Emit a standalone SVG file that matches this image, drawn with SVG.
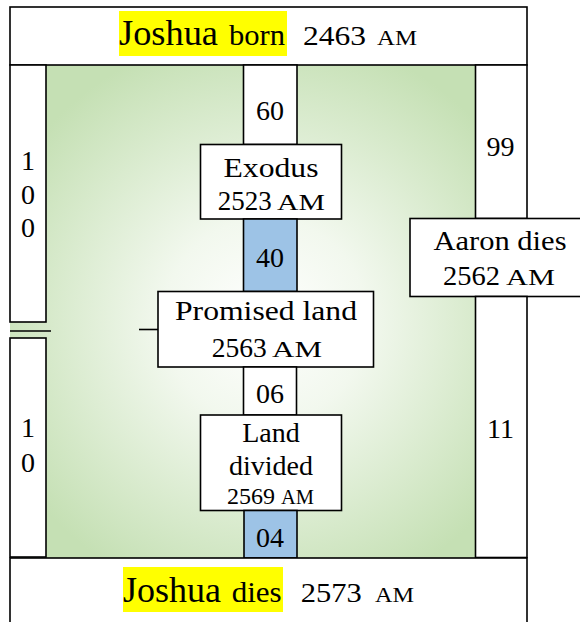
<svg xmlns="http://www.w3.org/2000/svg" width="580" height="622" viewBox="0 0 580 622">
<defs>
<radialGradient id="g" gradientUnits="userSpaceOnUse" cx="265" cy="320" r="290">
<stop offset="0" stop-color="#ffffff"/>
<stop offset="0.35" stop-color="#f2f8ee"/>
<stop offset="1" stop-color="#c5e0b4"/>
</radialGradient>
<style>
rect.b{fill:#fff;stroke:#000;stroke-width:1.6}
rect.bl{fill:#9dc3e6;stroke:#000;stroke-width:1.6}
text{font-family:"Liberation Serif","Times New Roman",serif;fill:#000;font-size:28px}
.c{text-anchor:middle}
.hl{fill:#ffff00}
line{stroke:#000;stroke-width:1.6}
</style>
</defs>
<rect x="10" y="65" width="466" height="493" fill="url(#g)"/>
<g id="top">
<rect class="b" x="10" y="7" width="517" height="58"/>
<rect class="hl" x="119" y="11" width="168" height="45"/>
<text y="45"><tspan x="119" font-size="36" textLength="99" lengthAdjust="spacingAndGlyphs">Joshua</tspan><tspan x="229" font-size="30" textLength="56" lengthAdjust="spacingAndGlyphs">born</tspan><tspan x="303" font-size="27" textLength="63" lengthAdjust="spacingAndGlyphs">2463</tspan><tspan x="377" font-size="21" textLength="40" lengthAdjust="spacingAndGlyphs">AM</tspan></text>
</g>
<g id="left-100">
<rect class="b" x="10" y="65" width="36" height="257"/>
<text class="c" x="28" y="170">1</text>
<text class="c" x="28" y="204">0</text>
<text class="c" x="28" y="237">0</text>
</g>
<g id="left-10">
<rect class="b" x="10" y="338" width="36" height="219"/>
<text class="c" x="28" y="437">1</text>
<text class="c" x="28" y="472">0</text>
</g>
<g id="connectors">
<line x1="10" y1="331" x2="51" y2="331"/>
<line x1="139" y1="329.5" x2="158" y2="329.5"/>
</g>
<g id="n60">
<rect class="b" x="243.5" y="65" width="53.5" height="79.5"/>
<text class="c" x="270" y="120">60</text>
</g>
<g id="exodus">
<rect class="b" x="200.5" y="144.5" width="141" height="74.5"/>
<text class="c" x="271" y="176.7" font-size="30" textLength="95" lengthAdjust="spacingAndGlyphs">Exodus</text>
<text y="210"><tspan x="217.7" font-size="27" textLength="54" lengthAdjust="spacingAndGlyphs">2523</tspan><tspan x="277" font-size="23" textLength="48" lengthAdjust="spacingAndGlyphs">AM</tspan></text>
</g>
<g id="n40">
<rect class="bl" x="243.5" y="219" width="53.5" height="72.5"/>
<text class="c" x="270" y="266.7">40</text>
</g>
<g id="promised">
<rect class="b" x="158" y="291.5" width="215.5" height="75.5"/>
<text class="c" x="266" y="320" font-size="30" textLength="182" lengthAdjust="spacingAndGlyphs">Promised land</text>
<text y="356.7"><tspan x="211.7" font-size="27" textLength="55" lengthAdjust="spacingAndGlyphs">2563</tspan><tspan x="272" font-size="23" textLength="50" lengthAdjust="spacingAndGlyphs">AM</tspan></text>
</g>
<g id="n06">
<rect class="b" x="243.5" y="367" width="53" height="48"/>
<text class="c" x="270" y="403.3">06</text>
</g>
<g id="land">
<rect class="b" x="200.5" y="415" width="141" height="95.5"/>
<text class="c" x="271" y="441.7">Land</text>
<text class="c" x="271" y="475">divided</text>
<text y="504"><tspan x="227" font-size="24" textLength="48" lengthAdjust="spacingAndGlyphs">2569</tspan><tspan x="281" font-size="20" textLength="33" lengthAdjust="spacingAndGlyphs">AM</tspan></text>
</g>
<g id="n04">
<rect class="bl" x="244" y="510.5" width="53" height="47.5"/>
<text class="c" x="270" y="546.7">04</text>
</g>
<g id="right-99">
<rect class="b" x="475.5" y="65" width="51.5" height="153.5"/>
<text class="c" x="500.5" y="156">99</text>
</g>
<g id="aaron">
<rect class="b" x="410" y="218.5" width="190" height="78"/>
<text class="c" x="500" y="250" font-size="30" textLength="133" lengthAdjust="spacingAndGlyphs">Aaron dies</text>
<text y="285"><tspan x="443" font-size="28" textLength="57" lengthAdjust="spacingAndGlyphs">2562</tspan><tspan x="506" font-size="24" textLength="49" lengthAdjust="spacingAndGlyphs">AM</tspan></text>
</g>
<g id="right-11">
<rect class="b" x="475.5" y="296.5" width="51.5" height="261"/>
<text class="c" x="500.5" y="438.3">11</text>
</g>
<g id="bottom">
<rect class="b" x="10" y="558" width="517" height="80"/>
<rect class="hl" x="123" y="567" width="160" height="45"/>
<text y="602"><tspan x="123" font-size="36" textLength="98" lengthAdjust="spacingAndGlyphs">Joshua</tspan><tspan x="231.7" font-size="30" textLength="50" lengthAdjust="spacingAndGlyphs">dies</tspan><tspan x="300.7" font-size="27" textLength="61" lengthAdjust="spacingAndGlyphs">2573</tspan><tspan x="375" font-size="21" textLength="39" lengthAdjust="spacingAndGlyphs">AM</tspan></text>
</g>
</svg>
